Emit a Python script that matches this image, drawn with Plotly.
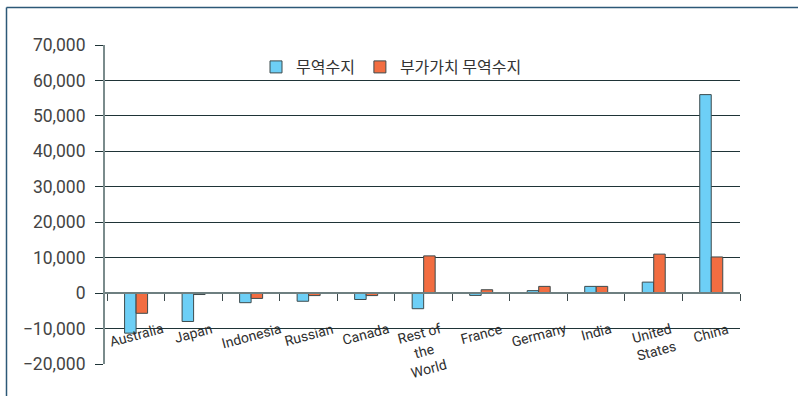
import plotly.graph_objects as go

categories = ["Australia", "Japan", "Indonesia", "Russian", "Canada", "Rest of<br>the<br>World",
              "France", "Germany", "India", "United<br>States", "China"]
trade_balance = [-11300, -8000, -2700, -2300, -1800, -4400, -650, 700, 1900, 3100, 56000]
va_trade_balance = [-5700, -400, -1500, -700, -700, 10500, 950, 1900, 1900, 11000, 10200]
series_names = ["무역수지", "부가가치 무역수지"]
y_ticks = [-20000, -10000, 0, 10000, 20000, 30000, 40000, 50000, 60000, 70000]

L, R, T, B = 105, 740, 45, 364
W, H = 798, 396

fig = go.Figure()
fig.add_trace(go.Bar(x=categories, y=trade_balance, name=series_names[0],
                     marker=dict(color="#6dcff6", line=dict(color="#3d4b4d", width=1))))
fig.add_trace(go.Bar(x=categories, y=va_trade_balance, name=series_names[1],
                     marker=dict(color="#f26d41", line=dict(color="#3d4b4d", width=1))))

zero_frac = (0 - y_ticks[0]) / (y_ticks[-1] - y_ticks[0])

annotations = []
for c in categories:
    annotations.append(dict(x=c, y=-7000, xref="x", yref="y", text=c, showarrow=False,
                            textangle=-15, yanchor="top", xanchor="center",
                            font=dict(family="Roboto", size=14, color="#2e2e2e")))

def px2paper_x(px):
    return (px - L) / (R - L)

def px2paper_y(py):
    return (B - py) / (B - T)

fig.update_layout(
    width=W, height=H,
    margin=dict(l=L, r=W - R, t=T, b=H - B, autoexpand=False),
    paper_bgcolor="white", plot_bgcolor="white",
    barmode="group", bargap=0.6, bargroupgap=0,
    showlegend=True,
    legend=dict(orientation="h", xref="paper", yref="paper",
                x=px2paper_x(256), y=px2paper_y(50), xanchor="left", yanchor="top",
                font=dict(family="Noto Sans CJK KR", size=16, color="#333333"),
                bgcolor="rgba(0,0,0,0)", itemwidth=30, tracegroupgap=0),
    xaxis=dict(anchor="free", position=zero_frac, showticklabels=False,
               showline=True, linecolor="#6e7f80", linewidth=2,
               ticks="outside", tickson="boundaries", ticklen=7, tickcolor="#3d4b4d",
               showgrid=False, zeroline=False),
    yaxis=dict(range=[y_ticks[0], y_ticks[-1]], tickvals=y_ticks,
               tickformat=",", showline=True, linecolor="#7a8b8c", linewidth=2,
               showgrid=True, gridcolor="#1f3437", gridwidth=1,
               ticks="outside", ticklen=8, tickcolor="#1f3437",
               zeroline=False, ticklabelstandoff=6,
               tickfont=dict(family="Roboto", size=17.5, color="#444444")),
    annotations=annotations,
    shapes=[dict(type="line", xref="paper", yref="paper",
                 x0=px2paper_x(6.5), x1=px2paper_x(6.5), y0=px2paper_y(7.5), y1=px2paper_y(410),
                 line=dict(color="#2c5877", width=1.5)),
            dict(type="line", xref="paper", yref="paper",
                 x0=px2paper_x(6.5), x1=px2paper_x(810), y0=px2paper_y(7.5), y1=px2paper_y(7.5),
                 line=dict(color="#2c5877", width=1.5))],
)

fig.write_html("out.html")
